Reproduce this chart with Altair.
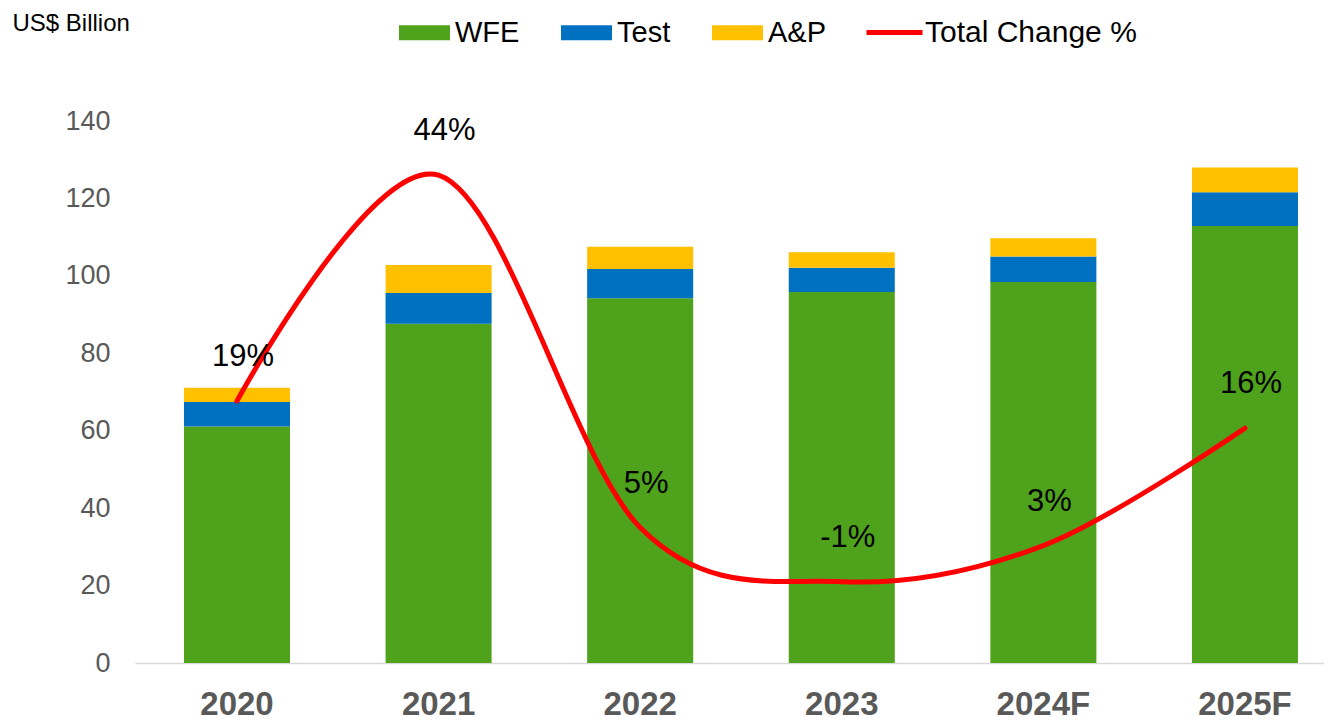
import altair as alt
import pandas as pd

years = ["2020", "2021", "2022", "2023", "2024F", "2025F"]
wfe = [61.1, 87.6, 94.2, 95.8, 98.4, 112.9]
test = [6.3, 8.0, 7.6, 6.3, 6.6, 8.7]
ap = [3.7, 7.2, 5.7, 4.0, 4.7, 6.4]
change = [19, 44, 5, -1, 3, 16]

segments = ["WFE", "Test", "A&P"]
seg_colors = ["#4FA21C", "#0070C0", "#FFC000"]

rows = []
for i, y in enumerate(years):
    for k, (name, vals) in enumerate(zip(segments, [wfe, test, ap])):
        rows.append({"year": y, "segment": name, "value": vals[i], "order": k})
bars_df = pd.DataFrame(rows)

line_df = pd.DataFrame({
    "year": years,
    "change": change,
    "label": [f"{c}%" for c in change],
    "series": ["Total Change %"] * len(years),
})

FONT = "Liberation Sans"

x_enc = alt.X(
    "year:N",
    sort=years,
    scale=alt.Scale(paddingInner=0.474, paddingOuter=0.186, align=0.653),
    axis=alt.Axis(
        title=None, labelAngle=0, labelFontSize=33, labelFontWeight="bold",
        labelColor="#595959", labelPadding=25, ticks=False,
        domainColor="#D9D9D9", domainWidth=1.5, labelFont=FONT,
    ),
)

bars = alt.Chart(bars_df).mark_bar().encode(
    x=x_enc,
    y=alt.Y(
        "value:Q", stack="zero",
        scale=alt.Scale(domain=[0, 140], nice=False),
        axis=alt.Axis(
            title="US$ Billion", titleAngle=0, titleX=-123, titleY=-110,
            titleAlign="left", titleBaseline="top", titleFontSize=24,
            titleFontWeight="normal", titleColor="#000000", titleFont=FONT,
            values=[0, 20, 40, 60, 80, 100, 120, 140],
            labelFontSize=27, labelColor="#595959", labelPadding=25,
            grid=False, domain=False, ticks=False, labelFont=FONT,
        ),
    ),
    color=alt.Color(
        "segment:N",
        scale=alt.Scale(domain=segments, range=seg_colors),
        legend=alt.Legend(
            title=None, orient="none", direction="horizontal",
            legendX=264, legendY=-114, symbolType="M-1,-0.29H1V0.29H-1Z",
            symbolSize=2601, symbolStrokeWidth=0, symbolOpacity=1,
            labelFontSize=29, labelColor="#000000", labelFont=FONT,
            labelOffset=5, columnPadding=41, padding=0, labelLimit=300,
        ),
    ),
    order=alt.Order("order:Q", sort="ascending"),
)

line_y = alt.Y("change:Q", scale=alt.Scale(domain=[-10, 50], nice=False), axis=None)

line = alt.Chart(line_df).mark_line(
    strokeWidth=5, interpolate="cardinal", strokeCap="round"
).encode(
    x=alt.X("year:N", sort=years),
    y=line_y,
    stroke=alt.Stroke(
        "series:N",
        scale=alt.Scale(domain=["Total Change %"], range=["#FF0000"]),
        legend=alt.Legend(
            title=None, orient="none", direction="horizontal",
            legendX=729, legendY=-119, symbolType="stroke",
            symbolSize=3136, symbolStrokeWidth=5,
            labelFontSize=30, labelColor="#000000", labelFont=FONT,
            labelOffset=0, padding=0, labelLimit=400,
        ),
    ),
)

labels = alt.Chart(line_df).mark_text(
    dy=-44, dx=6, fontSize=31, color="#000000", font=FONT
).encode(
    x=alt.X("year:N", sort=years),
    y=line_y,
    text="label:N",
)

chart = (
    alt.layer(bars, line, labels)
    .resolve_scale(y="independent")
    .properties(
        width=1189, height=542,
        autosize=alt.AutoSizeParams(type="none"),
        padding={"left": 127, "top": 113, "right": 0, "bottom": 60},
        view=alt.ViewBackground(stroke="transparent", strokeWidth=0),
    )
    .configure_view(stroke="transparent", strokeWidth=0)
    .configure(font=FONT)
)

chart.save("out.html", embed_options={"renderer": "svg", "actions": False})
